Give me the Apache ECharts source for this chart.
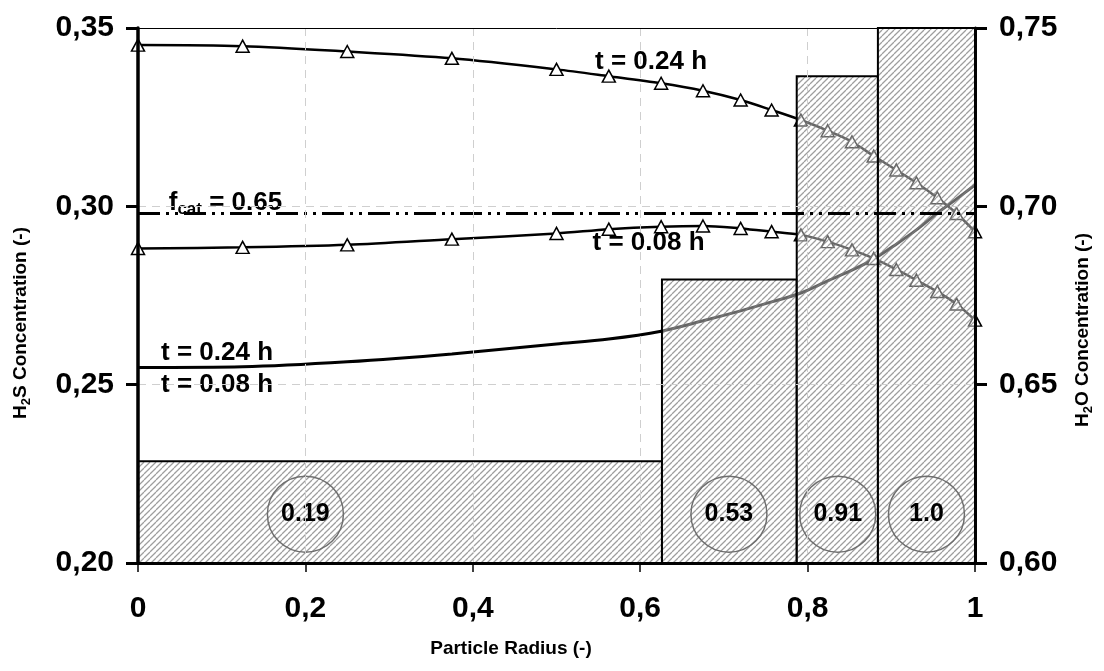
<!DOCTYPE html>
<html>
<head>
<meta charset="utf-8">
<script src="https://cdn.jsdelivr.net/npm/echarts@6/dist/echarts.min.js"></script>
<style>
  html, body { margin: 0; padding: 0; background: #fff; }
  #chart { width: 1104px; height: 671px; }
</style>
</head>
<body>
<div id="chart"></div>
<script>
// Radial grid of the simulated profiles (dimensionless particle radius)
const radius = [0, 0.125, 0.25, 0.375, 0.5, 0.5625, 0.625, 0.675, 0.72, 0.757,
                0.792, 0.824, 0.853, 0.879, 0.906, 0.93, 0.955, 0.978, 1.0];

// H2S concentration profiles (left axis)
const h2sT024 = [0.3452, 0.3449, 0.3434, 0.3415, 0.3384, 0.3365, 0.3345, 0.3324, 0.3298, 0.3270,
                 0.3242, 0.3212, 0.3181, 0.3141, 0.3102, 0.3066, 0.3024, 0.2980, 0.2929];
const h2sT008 = [0.2882, 0.2885, 0.2892, 0.2908, 0.2924, 0.2936, 0.2943, 0.2945, 0.2938, 0.2929,
                 0.2920, 0.2901, 0.2878, 0.2854, 0.2823, 0.2793, 0.2761, 0.2726, 0.2681];

// H2O concentration profile (right axis); t = 0.08 h and t = 0.24 h coincide
const h2oProfile = [0.6548, 0.6550, 0.6564, 0.6586, 0.6614, 0.6628, 0.6650, 0.6679, 0.6707, 0.6732,
                    0.6757, 0.6791, 0.6821, 0.6852, 0.6894, 0.6934, 0.6981, 0.7021, 0.7060];

// Catalyst shells: radial edges and relative catalyst fraction per shell
const shellEdges = [0, 0.626, 0.787, 0.884, 1.0];
const catFraction = [0.19, 0.53, 0.91, 1.0];

// Reference level for the uniform catalyst fraction f_cat = 0.65
const fcatLevel = 0.298;

// Axis ticks
const xTicks = { min: 0, max: 1, step: 0.2 };
const h2sTicks = { min: 0.20, max: 0.35, step: 0.05 };
const h2oTicks = { min: 0.60, max: 0.75, step: 0.05 };

// Annotation placement (data coordinates on the left axis)
const badgeX = [0.2, 0.706, 0.836, 0.942];
const badgeY = 0.2137;
const curveNotes = [
  { x: 0.613, y: 0.3405, text: 't = 0.24 h' },
  { x: 0.610, y: 0.2897, text: 't = 0.08 h' },
  { x: 0.0944, y: 0.2589, text: 't = 0.24 h' },
  { x: 0.0944, y: 0.2499, text: 't = 0.08 h' }
];
const fcatNote = { x: 0.1045, y: 0.3009 };

const FONT = '"Liberation Sans", Arial, Helvetica, sans-serif';
const comma = (v, d) => v.toFixed(d).replace('.', ',');

// Diagonal hatch used for the catalyst shells
function hatchPattern() {
  const c = document.createElement('canvas');
  c.width = 6; c.height = 6;
  const g = c.getContext('2d');
  g.fillStyle = 'rgba(255,255,255,0.4)';
  g.fillRect(0, 0, 6, 6);
  g.strokeStyle = 'rgba(125,125,125,0.75)';
  g.lineWidth = 1.25;
  g.beginPath();
  for (const o of [-6, 0, 6]) { g.moveTo(o, 6); g.lineTo(o + 6, 0); }
  g.stroke();
  return c;
}
const hatch = { image: hatchPattern(), repeat: 'repeat' };

const chart = echarts.init(document.getElementById('chart'), null, { renderer: 'canvas' });

const labelFont = { color: '#000', fontWeight: 'bold', fontFamily: FONT };
const gridLine = { show: true, lineStyle: { color: '#cfcfcf', type: [8, 6], width: 1 } };
const clearItem = { color: 'rgba(0,0,0,0)', opacity: 1 };

const option = {
  animation: false,
  backgroundColor: '#fff',
  grid: { left: 138, right: 129, top: 28, bottom: 108, containLabel: false },
  xAxis: [
    {
      type: 'value', min: xTicks.min, max: xTicks.max, interval: xTicks.step, position: 'bottom', z: 10,
      axisLine: { show: true, onZero: false, lineStyle: { color: '#000', width: 3 } },
      axisTick: { show: true, length: 9, lineStyle: { color: '#000', width: 1.5 } },
      axisLabel: Object.assign({ margin: 31, fontSize: 30,
        formatter: v => (v === 0 || v === 1) ? String(v) : comma(v, 1) }, labelFont),
      splitLine: gridLine
    },
    {
      type: 'value', min: xTicks.min, max: xTicks.max, position: 'top', z: 10,
      axisLine: { show: true, onZero: false, lineStyle: { color: '#000', width: 1 } },
      axisTick: { show: false }, axisLabel: { show: false }, splitLine: { show: false }
    }
  ],
  yAxis: [
    {
      type: 'value', min: h2sTicks.min, max: h2sTicks.max, interval: h2sTicks.step, position: 'left', z: 10,
      axisLine: { show: true, onZero: false, lineStyle: { color: '#000', width: 3.5 } },
      axisTick: { show: true, length: 10, lineStyle: { color: '#000', width: 3 } },
      axisLabel: Object.assign({ margin: 24, fontSize: 30, formatter: v => comma(v, 2) }, labelFont),
      splitLine: gridLine
    },
    {
      type: 'value', min: h2oTicks.min, max: h2oTicks.max, interval: h2oTicks.step, position: 'right', z: 10,
      axisLine: { show: true, onZero: false, lineStyle: { color: '#000', width: 3 } },
      axisTick: { show: true, length: 12, lineStyle: { color: '#000', width: 3 } },
      axisLabel: Object.assign({ margin: 24, fontSize: 30, formatter: v => comma(v, 2) }, labelFont),
      splitLine: { show: false }
    },
    {
      type: 'value', min: h2oTicks.min, max: h2oTicks.max, interval: h2oTicks.step, position: 'right', z: 10,
      axisLine: { show: false },
      axisTick: { show: true, inside: true, length: 12, lineStyle: { color: '#000', width: 3 } },
      axisLabel: { show: false }, splitLine: { show: false }
    },
    { type: 'value', min: 0, max: 1, show: false }
  ],
  series: [
    {
      name: 'H2O', type: 'line', xAxisIndex: 0, yAxisIndex: 1, z: 2,
      data: radius.map((r, i) => [r, h2oProfile[i]]),
      smooth: 0.3, showSymbol: false, symbol: 'none',
      lineStyle: { color: '#000', width: 3 }
    },
    {
      name: 'H2S t = 0.24 h', type: 'line', xAxisIndex: 0, yAxisIndex: 0, z: 2,
      data: radius.map((r, i) => [r, h2sT024[i]]),
      smooth: 0.3, symbol: 'triangle', symbolSize: [13, 12], showAllSymbol: true,
      itemStyle: { color: '#fff', borderColor: '#000', borderWidth: 1.5 },
      lineStyle: { color: '#000', width: 2.5 }
    },
    {
      name: 'H2S t = 0.08 h', type: 'line', xAxisIndex: 0, yAxisIndex: 0, z: 2,
      data: radius.map((r, i) => [r, h2sT008[i]]),
      smooth: 0.3, symbol: 'triangle', symbolSize: [13, 12], showAllSymbol: true,
      itemStyle: { color: '#fff', borderColor: '#000', borderWidth: 1.5 },
      lineStyle: { color: '#000', width: 2.5 }
    },
    {
      name: 'Catalyst shells', type: 'custom', xAxisIndex: 0, yAxisIndex: 3, z: 4,
      data: catFraction.map((f, i) => [shellEdges[i], shellEdges[i + 1], f]),
      encode: { x: [0, 1], y: 2 },
      renderItem: (params, api) => {
        const p0 = api.coord([api.value(0), 0]);
        const p1 = api.coord([api.value(1), api.value(2)]);
        return {
          type: 'rect',
          shape: { x: p0[0], y: p1[1], width: p1[0] - p0[0], height: p0[1] - p1[1] },
          style: { fill: hatch, stroke: '#000', lineWidth: 2 }
        };
      }
    },
    {
      name: 'f_cat', type: 'line', xAxisIndex: 0, yAxisIndex: 0, z: 6,
      data: [[xTicks.min, fcatLevel], [xTicks.max, fcatLevel]],
      symbol: 'none',
      lineStyle: { color: '#000', width: 3, type: [22, 6, 3, 6, 3, 6] }
    },
    {
      name: 'Shell fraction', type: 'scatter', xAxisIndex: 0, yAxisIndex: 0, z: 7,
      data: catFraction.map((f, i) => [badgeX[i], badgeY, f]),
      symbol: 'circle', symbolSize: 76,
      itemStyle: { color: 'rgba(0,0,0,0)', borderColor: '#6e6e6e', borderWidth: 1.5, opacity: 1 },
      label: Object.assign({ show: true, position: 'inside', fontSize: 25,
        formatter: p => p.value[2] === 1 ? '1.0' : p.value[2].toFixed(2) }, labelFont)
    },
    {
      name: 'Curve notes', type: 'scatter', xAxisIndex: 0, yAxisIndex: 0, z: 8,
      data: curveNotes.map(n => [n.x, n.y, n.text]),
      symbolSize: 1, itemStyle: clearItem,
      label: Object.assign({ show: true, position: 'inside', fontSize: 26,
        formatter: p => p.value[2] }, labelFont)
    },
    {
      name: 'f_cat note', type: 'scatter', xAxisIndex: 0, yAxisIndex: 0, z: 8,
      data: [[fcatNote.x, fcatNote.y]],
      symbolSize: 1, itemStyle: clearItem,
      label: {
        show: true, position: 'inside',
        formatter: '{m|f}{s|cat}{m| = 0.65}',
        rich: {
          m: { fontSize: 26, fontWeight: 'bold', fontFamily: FONT, color: '#000', lineHeight: 30 },
          s: { fontSize: 17, fontWeight: 'bold', fontFamily: FONT, color: '#000', lineHeight: 12, verticalAlign: 'bottom' }
        }
      }
    }
  ],
  graphic: [
    {
      type: 'text', x: 21, y: 323, rotation: Math.PI / 2,
      style: {
        text: '{b|H}{s|2}{b|S Concentration (-)}', align: 'center', verticalAlign: 'middle',
        rich: {
          b: { fontSize: 19, fontWeight: 'bold', fontFamily: FONT, fill: '#000', lineHeight: 24 },
          s: { fontSize: 13, fontWeight: 'bold', fontFamily: FONT, fill: '#000', lineHeight: 10, verticalAlign: 'bottom' }
        }
      }
    },
    {
      type: 'text', x: 1083, y: 330, rotation: Math.PI / 2,
      style: {
        text: '{b|H}{s|2}{b|O Concentration (-)}', align: 'center', verticalAlign: 'middle',
        rich: {
          b: { fontSize: 19, fontWeight: 'bold', fontFamily: FONT, fill: '#000', lineHeight: 24 },
          s: { fontSize: 13, fontWeight: 'bold', fontFamily: FONT, fill: '#000', lineHeight: 10, verticalAlign: 'bottom' }
        }
      }
    },
    {
      type: 'text', x: 511, y: 649,
      style: {
        text: 'Particle Radius (-)', align: 'center', verticalAlign: 'middle',
        fontSize: 19, fontWeight: 'bold', fontFamily: FONT, fill: '#000'
      }
    }
  ]
};

chart.setOption(option);
</script>
</body>
</html>
